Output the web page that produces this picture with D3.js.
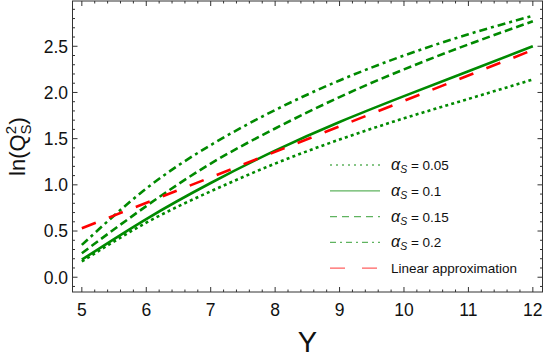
<!DOCTYPE html>
<html>
<head>
<meta charset="utf-8">
<script src="https://d3js.org/d3.v7.min.js"></script>
<style>
body { margin: 0; background: white; }
text { font-family: "Liberation Sans", Arial, sans-serif; fill: #111; }
</style>
</head>
<body>
<div id="chart"></div>
<script>
// values
var Yvals = [5, 6, 7, 8, 9, 10, 11, 12];
var alpha005 = [0.17, 0.59, 0.93, 1.23, 1.49, 1.72, 1.93, 2.14];
var alpha01  = [0.19, 0.63, 1.02, 1.37, 1.68, 1.96, 2.23, 2.50];
var alpha015 = [0.26, 0.77, 1.23, 1.61, 1.95, 2.25, 2.52, 2.77];
var alpha02  = [0.35, 0.96, 1.43, 1.81, 2.13, 2.40, 2.63, 2.83];
var linearY  = [5, 12];
var linearV  = [0.53, 2.46];
var legendLabels = ["0.05", "0.1", "0.15", "0.2"];
var xTicks = [5, 6, 7, 8, 9, 10, 11, 12];
var yTicks = [0.0, 0.5, 1.0, 1.5, 2.0, 2.5];

var W = 545, H = 358;
var pLeft = 72.5, pRight = 542.5, pTop = 1, pBottom = 292;

var svg = d3.select("#chart").append("svg")
    .attr("width", W)
    .attr("height", H);

var x = d3.scaleLinear().domain([4.855, 12.15]).range([pLeft, pRight]);
var y = d3.scaleLinear().domain([-0.16, 2.99]).range([pBottom, pTop]);

var green = "#008a00";
var series = [
  {vals: alpha005, dash: "3,3.2", leg: "2,4"},
  {vals: alpha01,  dash: null,    leg: null},
  {vals: alpha015, dash: "8,4",   leg: "7,5"},
  {vals: alpha02,  dash: "8,4,3,4", leg: "6,4,2,4"}
];

svg.append("clipPath").attr("id", "clip")
  .append("rect")
    .attr("x", pLeft).attr("y", pTop)
    .attr("width", pRight - pLeft).attr("height", pBottom - pTop);

var line = d3.line()
    .x(function(d) { return x(d[0]); })
    .y(function(d) { return y(d[1]); })
    .curve(d3.curveNatural);

var plot = svg.append("g").attr("clip-path", "url(#clip)");

series.forEach(function(s) {
  plot.append("path")
    .datum(Yvals.map(function(v, i) { return [v, s.vals[i]]; }))
    .attr("d", line)
    .attr("fill", "none")
    .attr("stroke", green)
    .attr("stroke-width", 2.6)
    .attr("stroke-dasharray", s.dash);
});

plot.append("path")
  .datum(linearY.map(function(v, i) { return [v, linearV[i]]; }))
  .attr("d", d3.line().x(function(d) { return x(d[0]); }).y(function(d) { return y(d[1]); }))
  .attr("fill", "none")
  .attr("stroke", "#ff0000")
  .attr("stroke-width", 2.6)
  .attr("stroke-dasharray", "15,14");

// frame with inward ticks on all sides
var frame = svg.append("g").attr("stroke", "#333").attr("stroke-width", 1);
frame.append("rect")
  .attr("x", pLeft).attr("y", pTop)
  .attr("width", pRight - pLeft).attr("height", pBottom - pTop)
  .attr("fill", "none");

var xMinor = d3.range(4.8, 12.21, 0.2).filter(function(t) { return t >= 4.855 && t <= 12.15; });
var yMinor = d3.range(-0.1, 3.0, 0.1);

xMinor.forEach(function(t) {
  var major = Math.abs(t - Math.round(t)) < 1e-6;
  var len = major ? 5 : 2.5;
  frame.append("line").attr("x1", x(t)).attr("x2", x(t)).attr("y1", pBottom).attr("y2", pBottom - len);
  frame.append("line").attr("x1", x(t)).attr("x2", x(t)).attr("y1", pTop).attr("y2", pTop + len);
});
yMinor.forEach(function(t) {
  var major = Math.abs(t * 2 - Math.round(t * 2)) < 1e-6;
  var len = major ? 5 : 2.5;
  frame.append("line").attr("y1", y(t)).attr("y2", y(t)).attr("x1", pLeft).attr("x2", pLeft + len);
  frame.append("line").attr("y1", y(t)).attr("y2", y(t)).attr("x1", pRight).attr("x2", pRight - len);
});

svg.selectAll(".xt").data(xTicks).enter().append("text")
  .attr("x", function(d) { return x(d); })
  .attr("y", 316)
  .attr("text-anchor", "middle")
  .style("font-size", "17.5px")
  .text(function(d) { return d; });

svg.selectAll(".yt").data(yTicks).enter().append("text")
  .attr("x", 68)
  .attr("y", function(d) { return y(d) + 6.3; })
  .attr("text-anchor", "end")
  .style("font-size", "17.5px")
  .text(function(d) { return d.toFixed(1); });

svg.append("text")
  .attr("x", (pLeft + pRight) / 2)
  .attr("y", 352)
  .attr("text-anchor", "middle")
  .style("font-size", "29px")
  .text("Y");

var ylab = svg.append("text")
  .attr("transform", "translate(25," + ((pTop + pBottom) / 2) + ") rotate(-90)")
  .attr("text-anchor", "middle")
  .style("font-size", "22px");
ylab.append("tspan").text("ln(Q");
ylab.append("tspan").attr("dy", -9).style("font-size", "15px").text("2");
ylab.append("tspan").attr("dx", -8.5).attr("dy", 15).style("font-size", "15px").text("S");
ylab.append("tspan").attr("dy", -6).text(")");

// legend
var legY0 = 165, legStep = 25.8;
series.forEach(function(s, i) {
  var ly = legY0 + i * legStep;
  svg.append("line")
    .attr("x1", 330).attr("x2", 380).attr("y1", ly).attr("y2", ly)
    .attr("stroke", "#5fb35f")
    .attr("stroke-width", 1.3)
    .attr("stroke-dasharray", s.leg);
  var t = svg.append("text").attr("x", 391).attr("y", ly + 5).style("font-size", "13.5px");
  t.append("tspan").style("font-style", "italic").style("font-size", "16px").text("\u03b1");
  t.append("tspan").attr("dy", 3).style("font-style", "italic").style("font-size", "10.5px").text("S");
  t.append("tspan").attr("dy", -3).text(" = " + legendLabels[i]);
});
var lyR = legY0 + 4 * legStep;
svg.append("line")
  .attr("x1", 330).attr("x2", 377).attr("y1", lyR).attr("y2", lyR)
  .attr("stroke", "#ff6060")
  .attr("stroke-width", 1.3)
  .attr("stroke-dasharray", "15,17");
svg.append("text").attr("x", 391).attr("y", lyR + 5).style("font-size", "13.5px").text("Linear approximation");
</script>
</body>
</html>
